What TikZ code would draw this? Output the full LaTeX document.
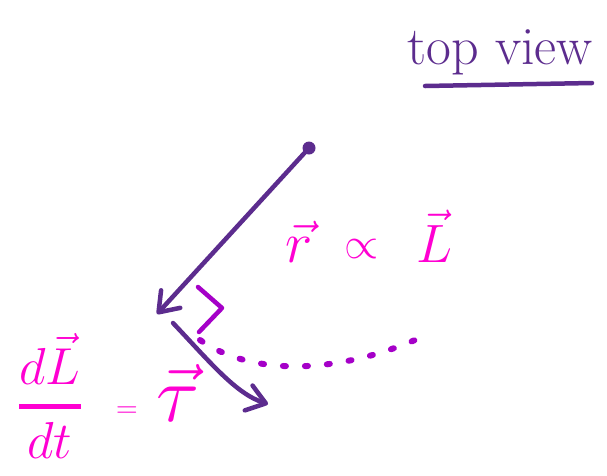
\RequirePackage{fix-cm}
\documentclass[tikz,border=0pt]{standalone}
\usetikzlibrary{arrows.meta}
\definecolor{ink}{RGB}{92,44,142}
\definecolor{pinkink}{RGB}{255,0,210}
\definecolor{violetink}{RGB}{165,0,200}
\begin{document}
\begin{tikzpicture}[x=1pt,y=-1pt, line cap=round, line join=round,
  stroke/.style={ink, line width=4.5pt},
  penarrow/.style={-{Straight Barb[length=18pt,width=26pt,round]}},
  pinktext/.style={pinkink, inner sep=0pt},
  vmark/.style={violetink, line width=4.5pt}]
\useasboundingbox (0,0) rectangle (607,475);
% title
\node[ink, inner sep=0pt, font=\fontsize{54}{60}\selectfont, anchor=base] (title) at (500,64) {top view};
\coordinate (ulA) at (425,86);
\coordinate (ulB) at (592,83);
\draw[stroke] (ulA) -- (ulB);
% pivot and radius arrow
\node[circle, fill=ink, minimum size=13pt, inner sep=0pt] (pivot) at (309,148) {};
\coordinate (rtip) at (157,314);
\draw[stroke, penarrow] (pivot) -- (rtip);
% torque arrow
\coordinate (tstart) at (173,323);
\coordinate (ttip) at (268,404);
\draw[stroke, penarrow] (tstart) .. controls (210,362) and (236,394) .. (ttip);
% right angle mark
\coordinate (raA) at (198,287);
\coordinate (raB) at (222,308);
\coordinate (raC) at (199,332);
\draw[vmark] (raA) -- (raB) -- (raC);
% dotted path
\coordinate (dA) at (200,340);
\coordinate (dB) at (415,340);
\draw[vmark, line width=6pt, dash pattern=on 3pt off 19pt] (dA) .. controls (255,378) and (340,372) .. (dB);
% r propto L
\node[pinktext, font=\fontsize{58}{60}\selectfont, anchor=base] (rvec) at (299,262) {$\vec{r}$};
\node[pinktext, font=\fontsize{44}{50}\selectfont, anchor=base] (prop) at (362,258) {$\propto$};
\node[pinktext, font=\fontsize{54}{60}\selectfont, anchor=base] (Lvec) at (434,262) {$\vec{L}$};
% dL/dt = tau
\node[pinktext, font=\fontsize{52}{60}\selectfont] (frac) at (50,396) {$\displaystyle{d\vec{L}\above 4.5pt dt}$};
\node[pinktext, font=\fontsize{30}{36}\selectfont] (eq) at (127,412) {$=$};
\node[pinktext, font=\fontsize{80}{90}\selectfont, anchor=base] (tau) at (178,421) {$\vec{\tau}$};
\end{tikzpicture}
\end{document}
